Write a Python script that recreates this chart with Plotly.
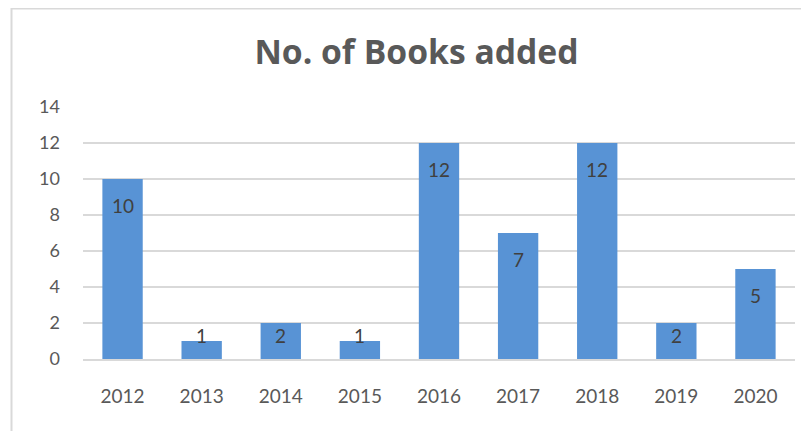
import plotly.graph_objects as go

years = ["2012", "2013", "2014", "2015", "2016", "2017", "2018", "2019", "2020"]
books = [10, 1, 2, 1, 12, 7, 12, 2, 5]
y_ticks = [0, 2, 4, 6, 8, 10, 12, 14]

OFF = 8  # page body margin
W, H = 809 - OFF, 431 - OFF
L, R, T, B = 83 - OFF, 14, 107 - OFF, 72
pw, ph = W - L - R, H - T - B
unit_px = ph / 14

def px_x(p):
    return (p - OFF - L) / pw

def px_y(p):
    return (H - B - (p - OFF)) / ph

fig = go.Figure()
fig.add_trace(go.Bar(
    x=years, y=books,
    marker=dict(color="#5893d5", line=dict(width=0)),
    hoverinfo="x+y",
))

annotations = []
for i, v in enumerate(books):
    bar_px = v * unit_px
    shift = -26 if bar_px > 50 else 24 - bar_px
    annotations.append(dict(x=i, y=v, xref="x", yref="y", text=str(v), showarrow=False,
                            yshift=shift, xanchor="center", yanchor="middle",
                            font=dict(family="Lato", size=19, color="#404040")))

fig.update_layout(
    width=W, height=H,
    margin=dict(l=L, r=R, t=T, b=B),
    paper_bgcolor="white", plot_bgcolor="white",
    bargap=0.49,
    showlegend=False,
    annotations=annotations,
    title=dict(text="<b>No. of Books added</b>", x=(416.5 - OFF) / W, xanchor="center",
               y=1 - (52 - OFF) / H, yanchor="middle",
               font=dict(family="Open Sans", size=33.7, color="#595959")),
    xaxis=dict(type="category", categoryorder="array", categoryarray=years,
               range=[-0.5, len(years) - 0.5],
               showgrid=False, showline=True, linecolor="#d9d9d9", linewidth=2,
               ticks="", tickfont=dict(family="Lato", size=19, color="#595959"),
               ticklabelstandoff=19),
    yaxis=dict(range=[0, 14], tickvals=y_ticks, showgrid=True, gridcolor="#d9d9d9",
               gridwidth=1.5, zeroline=False, showline=False, ticks="",
               tickfont=dict(family="Lato", size=18, color="#595959"),
               ticklabelstandoff=22),
    shapes=[dict(type="rect", xref="paper", yref="paper",
                 x0=px_x(11.5), x1=px_x(809 + 20), y0=px_y(431 + 20), y1=px_y(8.5),
                 line=dict(color="#d9d9d9", width=2), fillcolor="rgba(0,0,0,0)",
                 layer="below")],
)

fig.write_html("out.html")
